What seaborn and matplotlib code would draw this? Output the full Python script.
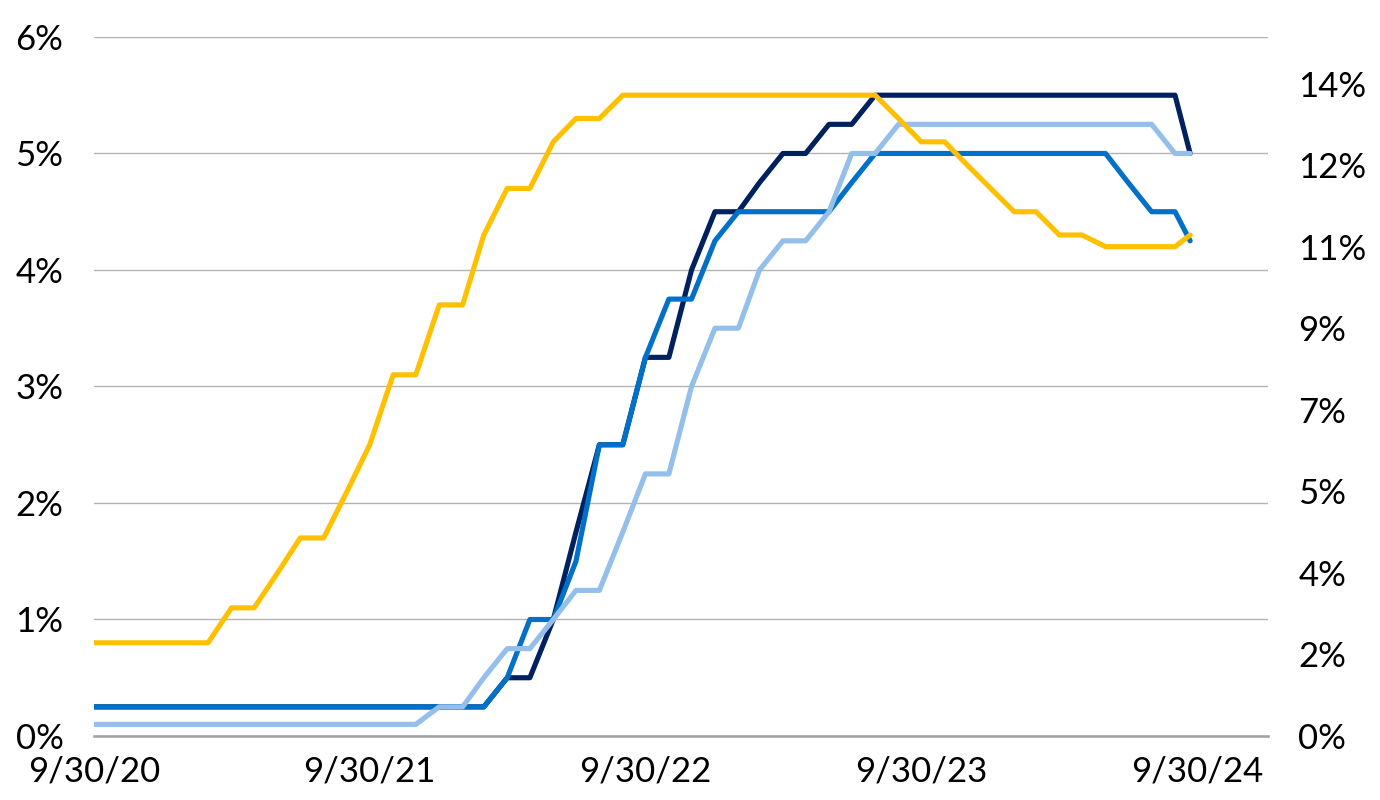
import pandas as pd
import seaborn as sns
import matplotlib.pyplot as plt
import matplotlib.dates as mdates

# month-end observations (last one is the latest reading)
dates = pd.to_datetime(
    list(pd.date_range("2020-09-30", "2024-08-31", freq="ME").strftime("%Y-%m-%d")) + ["2024-09-20"]
)

# policy rates, left axis (%)
navy_rate = [0.25] * 18 + [0.5, 0.5, 1.0, 1.75, 2.5, 2.5, 3.25, 3.25, 4.0, 4.5, 4.5, 4.75,
                           5.0, 5.0, 5.25, 5.25] + [5.5] * 14 + [5.0]
mid_rate = [0.25] * 18 + [0.5, 1.0, 1.0, 1.5, 2.5, 2.5, 3.25, 3.75, 3.75, 4.25, 4.5, 4.5,
                          4.5, 4.5, 4.5, 4.75] + [5.0] * 11 + [4.75, 4.5, 4.5, 4.25]
light_rate = [0.1] * 15 + [0.25, 0.25, 0.5, 0.75, 0.75, 1.0, 1.25, 1.25, 1.75, 2.25, 2.25,
                          3.0, 3.5, 3.5, 4.0, 4.25, 4.25, 4.5, 5.0, 5.0] + [5.25] * 12 + [5.0, 5.0]

# right axis (%)
yellow_rate = [2.0] * 6 + [2.75, 2.75, 3.5, 4.25, 4.25, 5.25, 6.25, 7.75, 7.75, 9.25, 9.25,
                           10.75, 11.75, 11.75, 12.75, 13.25, 13.25] + [13.75] * 12 + \
              [13.25, 12.75, 12.75, 12.25, 11.75, 11.25, 11.25, 10.75, 10.75, 10.5, 10.5,
               10.5, 10.5, 10.75]

left_ticks = [0, 1, 2, 3, 4, 5, 6]
right_ticks = [0, 1.75, 3.5, 5.25, 7, 8.75, 10.5, 12.25, 14]
right_labels = ["0%", "2%", "4%", "5%", "7%", "9%", "11%", "12%", "14%"]
x_ticks = pd.to_datetime(["2020-09-30", "2021-09-30", "2022-09-30", "2023-09-30", "2024-09-30"])

sns.set_style("white")
plt.rcParams["font.family"] = ["Lato", "DejaVu Sans"]

fig = plt.figure(figsize=(13.8, 8), dpi=100)
ax = fig.add_axes([0.0681, 0.08, 0.8507, 0.8738])

sns.lineplot(x=dates, y=navy_rate, ax=ax, color="#00215F", lw=3.7)
sns.lineplot(x=dates, y=mid_rate, ax=ax, color="#0070C8", lw=3.7)
sns.lineplot(x=dates, y=light_rate, ax=ax, color="#93BFEA", lw=3.7)

ax.set_ylim(0, 6)
ax.set_yticks(left_ticks)
ax.set_yticklabels([f"{t}%" for t in left_ticks])
ax.set_xlim(pd.Timestamp("2020-09-30"), pd.Timestamp("2025-01-01"))
ax.set_xticks(x_ticks)
ax.xaxis.set_major_formatter(mdates.DateFormatter("%-m/%d/%y"))
ax.grid(axis="y", color="#B3B3B3", lw=1)
ax.set_axisbelow(True)
for s in ["left", "right", "top"]:
    ax.spines[s].set_visible(False)
ax.spines["bottom"].set_color("#A0A0A0")
ax.spines["bottom"].set_linewidth(1.8)
ax.tick_params(axis="x", direction="out", length=8, width=1.8, color="#A0A0A0",
               labelsize=25, pad=6, labelcolor="black")
ax.tick_params(axis="y", length=0, labelsize=25, pad=22, labelcolor="black")

ax2 = ax.twinx()
sns.lineplot(x=dates, y=yellow_rate, ax=ax2, color="#FFC000", lw=3.7)
ax2.set_ylim(0, 15)
ax2.set_yticks(right_ticks)
ax2.set_yticklabels(right_labels)
ax2.tick_params(axis="y", length=0, labelsize=25, pad=22, labelcolor="black")
for s in ["left", "right", "top", "bottom"]:
    ax2.spines[s].set_visible(False)
ax2.set_ylabel("")
ax.set_ylabel("")
ax.set_xlabel("")

fig.savefig("out.png", dpi=100)
